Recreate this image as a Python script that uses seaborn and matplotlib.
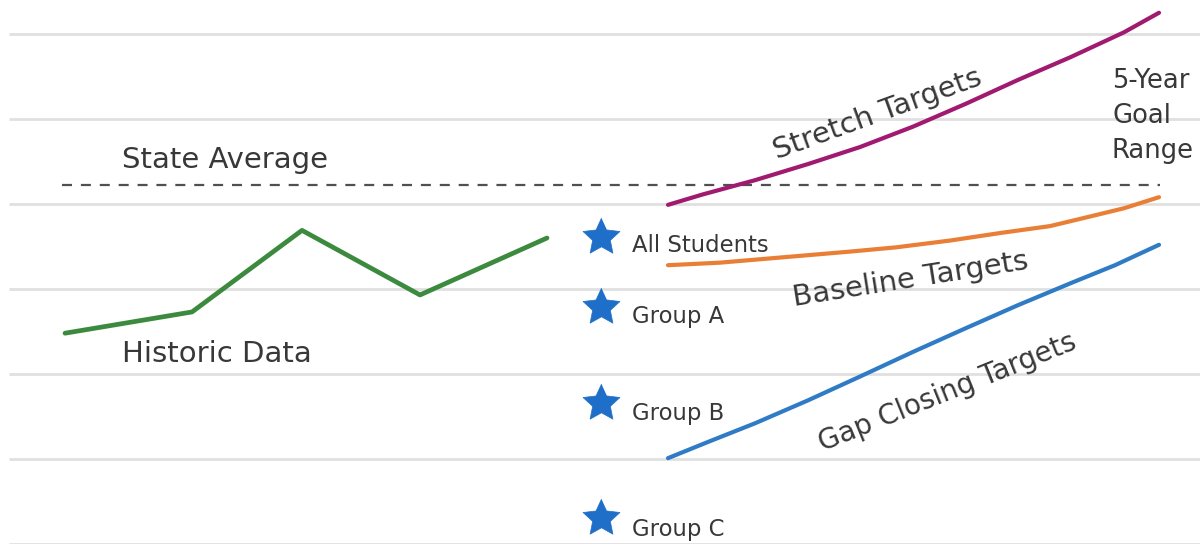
import matplotlib
matplotlib.use("Agg")
import matplotlib.pyplot as plt
import seaborn as sns
import pandas as pd
import numpy as np

# ---------------- data ----------------
hist_x = [65, 192, 302, 420, 547]
hist_y = [2.48, 2.73, 3.69, 2.93, 3.60]

stretch_x = [668, 702, 755, 808, 860, 913, 966, 1018, 1071, 1124, 1159]
stretch_y = [3.99, 4.11, 4.28, 4.47, 4.67, 4.91, 5.18, 5.46, 5.73, 6.02, 6.25]

baseline_x = [668, 720, 790, 850, 896, 950, 1001, 1050, 1089, 1124, 1159]
baseline_y = [3.28, 3.31, 3.38, 3.44, 3.49, 3.57, 3.66, 3.74, 3.85, 3.95, 4.08]

gap_x = [668, 710, 755, 808, 860, 913, 966, 1018, 1071, 1115, 1159]
gap_y = [1.01, 1.21, 1.42, 1.69, 1.97, 2.26, 2.54, 2.81, 3.07, 3.28, 3.52]

state_avg_x = [62, 1160]
state_avg_y = [4.22, 4.22]

groups = ["All Students", "Group A", "Group B", "Group C"]
group_x = [601, 601, 601, 601]
group_y = [3.61, 2.79, 1.66, 0.31]

goal_lines = ["5-Year", "Goal", "Range"]

grid_levels = [0, 1, 2, 3, 4, 5, 6]

# ---------------- figure ----------------
sns.set_theme(style="white")
plt.rcParams["font.family"] = ["DejaVu Sans"]

H = 544 / 85  # axis height in data units


def py(p):
    """pixel row (from top) -> data y"""
    return (544 - p) / 85


# a slightly "fat" five-pointed star marker (Office style)
ang = np.pi / 2 + np.arange(10) * np.pi / 5
rad = np.where(np.arange(10) % 2 == 0, 1.0, 0.48)
star = np.column_stack([rad * np.cos(ang), rad * np.sin(ang)])

fig = plt.figure(figsize=(12, 5.44), dpi=100)
ax = fig.add_axes([0, 0, 1, 1])
ax.set_xlim(0, 1200)
ax.set_ylim(0, H)
ax.axis("off")

ax.hlines(grid_levels, 9, 1200, colors="#e0e0e0", linewidth=2.0, zorder=0)

txt = "#383838"

# state average dashed line
sns.lineplot(x=state_avg_x, y=state_avg_y, ax=ax, color="#505050",
             linewidth=1.6, linestyle=(0, (4.5, 4)), zorder=2)

# historic
sns.lineplot(x=hist_x, y=hist_y, ax=ax, color="#3b8a3e", linewidth=3.4,
             zorder=3, sort=False)

# targets
tdf = pd.DataFrame({
    "x": stretch_x + baseline_x + gap_x,
    "y": stretch_y + baseline_y + gap_y,
    "kind": (["Stretch"] * len(stretch_x) + ["Baseline"] * len(baseline_x)
             + ["Gap"] * len(gap_x)),
})
sns.lineplot(data=tdf, x="x", y="y", hue="kind", ax=ax, linewidth=3.0,
             palette={"Stretch": "#a01a70", "Baseline": "#e97f36", "Gap": "#2f7bc6"},
             legend=False, zorder=3)

# stars
gdf = pd.DataFrame({"x": group_x, "y": group_y, "g": groups})
sns.scatterplot(data=gdf, x="x", y="y", ax=ax, marker=star, s=780,
                color="#1f6fc8", edgecolor="#1f6fc8", linewidth=0.5,
                zorder=4, legend=False)
label_baselines = [252, 323, 420, 536]
for gx, b, g in zip(group_x, label_baselines, groups):
    ax.text(gx + 31, py(b), g, fontsize=16.4, color=txt,
            ha="left", va="baseline")

# labels
big = 21
ax.text(122, py(168), "State Average", fontsize=big, color=txt,
        ha="left", va="baseline")
ax.text(122, py(362), "Historic Data", fontsize=big, color=txt,
        ha="left", va="baseline")
ax.text(878, py(114), "Stretch Targets", fontsize=big, color=txt,
        ha="center", va="center", rotation=20, rotation_mode="anchor")
ax.text(910, py(280), "Baseline Targets", fontsize=big, color=txt,
        ha="center", va="center", rotation=9, rotation_mode="anchor")
ax.text(947, py(392), "Gap Closing Targets", fontsize=20, color=txt,
        ha="center", va="center", rotation=22, rotation_mode="anchor")
for line, b in zip(goal_lines, [88, 123, 158]):
    ax.text(1112, py(b), line, fontsize=18.6, color=txt,
            ha="left", va="baseline")

fig.savefig("out.png", dpi=100, facecolor="white")
